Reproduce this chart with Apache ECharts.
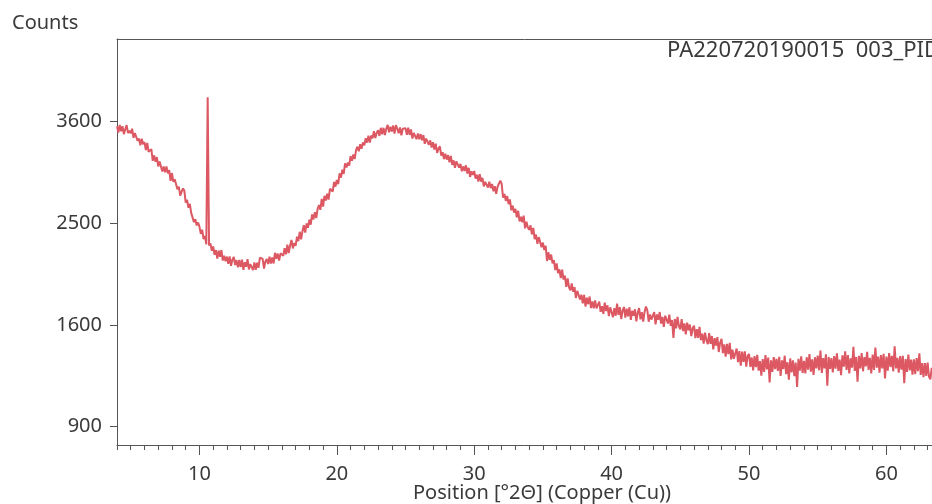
<!DOCTYPE html>
<html>
<head>
<meta charset="utf-8">
<script src="https://cdn.jsdelivr.net/npm/echarts@6/dist/echarts.min.js"></script>
<style>
html,body{margin:0;padding:0;background:#fff;}
#chart{width:932px;height:504px;}
</style>
</head>
<body>
<div id="chart"></div>
<script>
// Scan: first angle and step (°2Θ)
const startAngle = 4.0;
const stepAngle = 0.1;
// Counts, one row per degree (4.0 .. 64.0)
const counts = [
3543,3471,3558,3486,3544,3452,3509,3557,3465,3492,
3460,3515,3410,3465,3480,3375,3400,3325,3400,3335,
3361,3271,3351,3251,3261,3281,3151,3211,3141,3191,
3089,3144,3159,3034,3089,3024,3089,3014,3049,2934,
3017,2924,2951,2958,2845,2872,2779,2796,2853,2830,
2706,2735,2654,2693,2602,2621,2510,2539,2478,2507,
2466,2396,2436,2346,2376,2296,3890,2286,2306,2236,
2276,2199,2242,2165,2238,2180,2243,2146,2189,2140,
2182,2117,2183,2098,2154,2179,2105,2150,2086,2151,
2087,2155,2063,2131,2090,2158,2066,2114,2132,2061,
2129,2063,2126,2080,2173,2157,2161,2074,2138,2161,
2115,2181,2118,2174,2120,2217,2163,2210,2146,2212,
2229,2190,2261,2203,2294,2215,2286,2337,2258,2310,
2281,2369,2327,2416,2344,2422,2480,2409,2497,2455,
2534,2485,2586,2537,2608,2550,2641,2682,2633,2744,
2665,2776,2727,2797,2738,2849,2850,2821,2921,2872,
2943,2898,3013,2968,3053,3008,3123,3077,3132,3097,
3202,3151,3220,3170,3269,3308,3257,3336,3286,3355,
3324,3404,3354,3435,3355,3435,3405,3485,3406,3466,
3496,3431,3525,3450,3525,3440,3514,3559,3474,3538,
3483,3551,3458,3556,3514,3462,3529,3437,3515,3492,
3520,3444,3528,3443,3507,3401,3465,3479,3394,3458,
3392,3452,3381,3441,3341,3401,3420,3330,3380,3299,
3359,3276,3342,3239,3285,3312,3208,3245,3171,3228,
3164,3214,3134,3205,3105,3155,3075,3145,3146,3076,
3116,3037,3089,3040,3101,3012,3074,2975,3036,2997,
3039,2958,2998,2927,3006,2926,2965,2874,2923,2933,
2862,2925,2857,2900,2823,2876,2798,2871,2904,2936,
2899,2757,2796,2724,2773,2691,2739,2628,2676,2605,
2643,2558,2623,2518,2564,2509,2574,2449,2515,2460,
2435,2478,2391,2453,2346,2389,2302,2365,2357,2270,
2313,2243,2282,2142,2222,2152,2201,2121,2151,2060,
2120,2033,2067,1990,2063,1977,2010,1913,1986,1910,
1883,1942,1871,1910,1819,1879,1888,1807,1846,1775,
1844,1748,1822,1767,1831,1735,1789,1733,1798,1732,
1721,1788,1704,1751,1688,1780,1711,1758,1670,1741,
1748,1661,1735,1673,1772,1680,1743,1647,1715,1744,
1657,1730,1669,1742,1640,1714,1672,1725,1628,1697,
1735,1644,1702,1626,1704,1748,1716,1625,1683,1642,
1630,1703,1605,1683,1640,1703,1610,1663,1585,1673,
1680,1611,1682,1593,1639,1500,1647,1573,1664,1590,
1566,1646,1552,1612,1527,1618,1558,1603,1513,1574,
1594,1498,1567,1500,1584,1483,1532,1456,1539,1483,
1452,1536,1455,1514,1413,1497,1441,1505,1394,1463,
1492,1386,1450,1360,1454,1378,1462,1341,1411,1345,
1344,1420,1320,1401,1296,1397,1323,1398,1289,1364,
1380,1287,1354,1262,1364,1286,1373,1260,1328,1225,
1342,1251,1371,1270,1354,1179,1333,1252,1357,1271,
1345,1259,1359,1224,1333,1272,1367,1236,1320,1199,
1347,1248,1333,1223,1318,1149,1345,1260,1362,1244,
1330,1241,1356,1267,1378,1254,1340,1231,1356,1277,
1367,1263,1404,1245,1350,1276,1377,1158,1358,1273,
1349,1249,1364,1274,1384,1259,1339,1229,1369,1289,
1399,1265,1371,1241,1347,1282,1432,1258,1358,1184,
1366,1276,1386,1256,1356,1291,1396,1266,1351,1241,
1376,1266,1426,1281,1361,1246,1371,1276,1381,1206,
1361,1261,1386,1286,1366,1256,1436,1276,1351,1246,
1364,1268,1366,1175,1343,1252,1375,1263,1339,1233,
1340,1237,1349,1257,1384,1231,1313,1215,1313,1225,
1317,1219,1201,1280,1236,1290,1240,1300,1230,1275,
1250
];
const yTickCounts = [900, 1600, 2500, 3600];
const xTickLabels = [10, 20, 30, 40, 50, 60];
const xRange = [4, 63.32];
const yRangeCounts = [795, 4638];
const yAxisName = 'Counts';
const xAxisName = 'Position [°2Θ] (Copper (Cu))';
const sampleName = 'PA220720190015  003_PID';

// square-root intensity scale
const seriesData = counts.map((c, i) => [+(startAngle + i * stepAngle).toFixed(2), Math.sqrt(c)]);
const ySqrtTicks = yTickCounts.map(v => Math.sqrt(v));

const FONT = '"Noto Sans", "Open Sans", sans-serif';
const TEXT = '#3a3a3a';
const AXIS = '#555';

const chart = echarts.init(document.getElementById('chart'), null, {renderer: 'canvas'});
chart.setOption({
  animation: false,
  backgroundColor: '#fff',
  textStyle: {fontFamily: FONT},
  grid: {left: 117, top: 39, right: 0, bottom: 59, show: false, containLabel: false},
  xAxis: [
    {
      type: 'value', min: xRange[0], max: xRange[1], interval: 1,
      axisLine: {show: true, onZero: false, lineStyle: {color: AXIS, width: 1}},
      axisTick: {show: true, inside: false, length: 5, lineStyle: {color: AXIS, width: 1}},
      axisLabel: {show: false},
      splitLine: {show: false}
    },
    {
      type: 'value', min: xRange[0], max: xRange[1], position: 'bottom',
      axisLine: {show: false},
      axisTick: {show: true, inside: false, length: 10, customValues: xTickLabels, lineStyle: {color: AXIS, width: 1}},
      axisLabel: {show: true, customValues: xTickLabels, margin: 19, fontSize: 20, color: TEXT, fontFamily: FONT},
      splitLine: {show: false}
    },
    {
      type: 'value', min: xRange[0], max: xRange[1], position: 'top',
      axisLine: {show: true, onZero: false, lineStyle: {color: AXIS, width: 1}},
      axisTick: {show: false},
      axisLabel: {show: false},
      splitLine: {show: false}
    }
  ],
  yAxis: {
    type: 'value', min: Math.sqrt(yRangeCounts[0]), max: Math.sqrt(yRangeCounts[1]),
    axisLine: {show: true, onZero: false, lineStyle: {color: AXIS, width: 1}},
    axisTick: {show: true, inside: false, length: 7, customValues: ySqrtTicks, lineStyle: {color: AXIS, width: 1}},
    axisLabel: {show: true, customValues: ySqrtTicks, margin: 15, fontSize: 20, color: TEXT, fontFamily: FONT,
      formatter: v => String(Math.round(v * v))},
    splitLine: {show: false}
  },
  graphic: [
    {type: 'text', left: 12, top: 13, style: {text: yAxisName, fontSize: 20, fill: TEXT, fontFamily: FONT}},
    {type: 'text', left: 667, top: 40, style: {text: sampleName, fontSize: 22, fill: TEXT, fontFamily: FONT}},
    {type: 'text', left: 413, top: 483, style: {text: xAxisName, fontSize: 20, fill: TEXT, fontFamily: FONT}}
  ],
  series: [{
    type: 'line',
    xAxisIndex: 0,
    data: seriesData,
    showSymbol: false,
    symbol: 'none',
    lineStyle: {color: '#dc5862', width: 2},
    clip: true
  }]
});
</script>
</body>
</html>
